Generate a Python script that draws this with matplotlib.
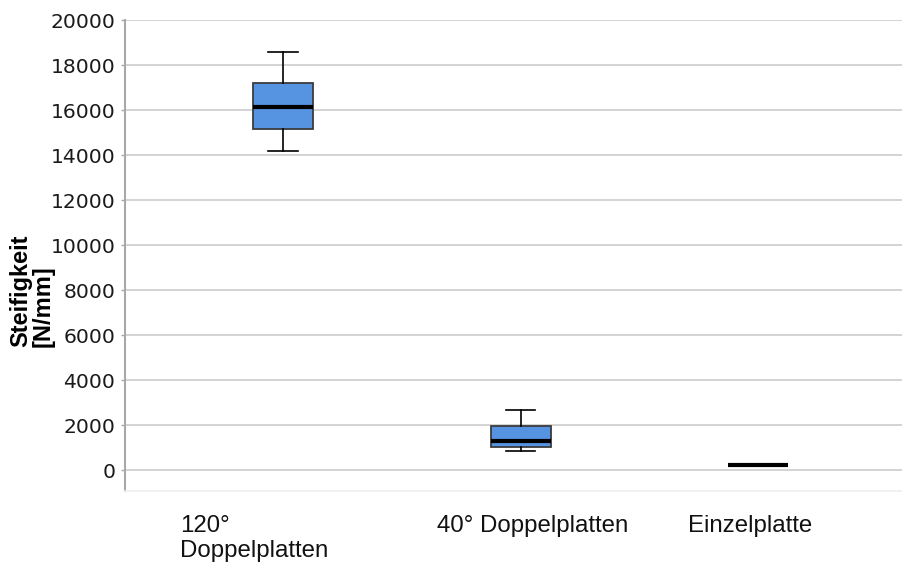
import matplotlib
matplotlib.use("Agg")
import matplotlib.pyplot as plt
from matplotlib.transforms import ScaledTranslation

# Stiffness summary per plate configuration (N/mm)
categories = ["120°\nDoppelplatten", "40° Doppelplatten", "Einzelplatte"]
whisker_low = [14200, 850, 220]
q1 = [15150, 1030, 220]
median = [16150, 1300, 220]
q3 = [17200, 1950, 220]
whisker_high = [18600, 2650, 220]
yticks = [0, 2000, 4000, 6000, 8000, 10000, 12000, 14000, 16000, 18000, 20000]

fig = plt.figure(figsize=(9.03, 5.65), dpi=100)
ax = fig.add_axes([125 / 903, 1 - 491 / 565, 1 - 125 / 903, (491 - 20) / 565])

stats = []
for i in range(len(categories)):
    stats.append(dict(med=median[i], q1=q1[i], q3=q3[i],
                      whislo=whisker_low[i], whishi=whisker_high[i],
                      fliers=[], label=categories[i]))

positions = list(range(len(categories)))
ax.bxp(stats, positions=positions, widths=0.2526, capwidths=0.126,
       showfliers=False, patch_artist=True,
       boxprops=dict(facecolor="#5693E0", edgecolor="#3c3c3c", linewidth=1.3),
       medianprops=dict(color="black", linewidth=3, solid_capstyle="butt"),
       whiskerprops=dict(color="black", linewidth=1.2),
       capprops=dict(color="black", linewidth=1.2),
       zorder=3)

ax.set_xlim(-0.665, 2.61)
ax.set_ylim(-930, 20000)
ax.set_yticks(yticks)
ax.set_yticklabels([str(v) for v in yticks], fontsize=14.6, family="DejaVu Sans", color="#1a1a1a")
ax.yaxis.grid(True, color="#d3d3d3", linewidth=1.4, zorder=0)
ax.set_axisbelow(True)
ax.tick_params(axis="y", length=3, width=1, color="#a8a8a8", pad=4)

ax.set_xticks(positions)
ax.set_xticklabels(categories, fontsize=17.3, family="Liberation Sans", ha="left",
                   linespacing=1.2, color="#111111")
ax.tick_params(axis="x", length=0, pad=17)
offsets_px = [-103, -84, -70]
for lab, dx in zip(ax.get_xticklabels(), offsets_px):
    lab.set_transform(lab.get_transform() + ScaledTranslation(dx / 100, 0, fig.dpi_scale_trans))

for side in ("top", "right"):
    ax.spines[side].set_visible(False)
ax.spines["left"].set_color("#a8a8a8")
ax.spines["left"].set_linewidth(1.5)
ax.spines["bottom"].set_color("#efefef")
ax.spines["bottom"].set_linewidth(1.2)

fig.text(32 / 903, 1 - 347 / 565, "Steifigkeit\n[N/mm]", rotation=90,
         ha="center", va="bottom", multialignment="left", linespacing=0.92,
         fontsize=17, fontweight="bold", family="Liberation Sans")

fig.savefig("out.png", dpi=100, facecolor="white")
